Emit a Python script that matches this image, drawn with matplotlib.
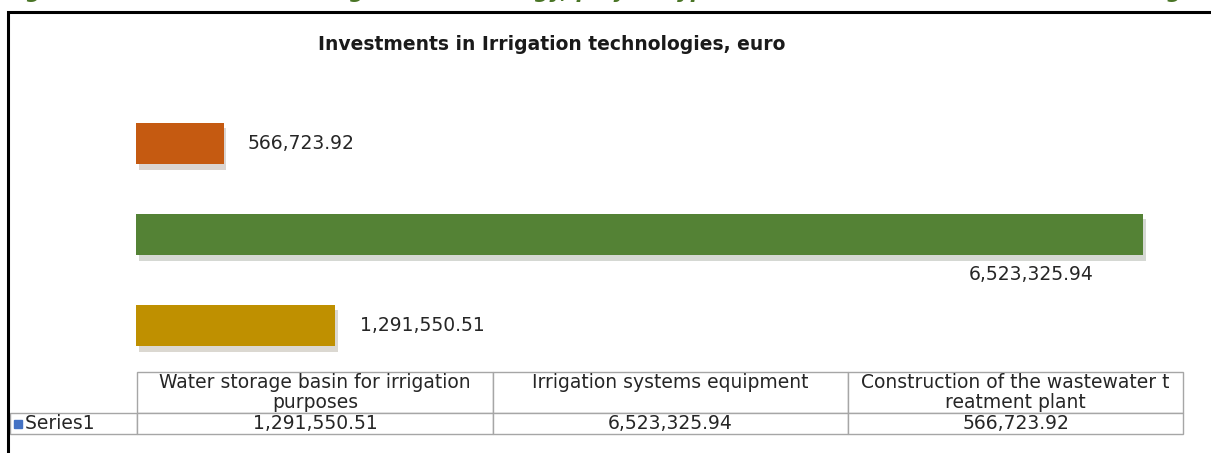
import matplotlib.pyplot as plt
from matplotlib.patches import Rectangle
import matplotlib.patheffects as pe

# Datos
categorias = ['Water storage basin for irrigation purposes',
              'Irrigation systems equipment',
              'Construction of the wastewater treatment plant']
encabezados = ['Water storage basin for irrigation\npurposes',
               'Irrigation systems equipment\n',
               'Construction of the wastewater t\nreatment plant']
valores = [1291550.51, 6523325.94, 566723.92]
etiquetas = ['1,291,550.51', '6,523,325.94', '566,723.92']
serie = 'Series1'
colores = ['#BF9000', '#548235', '#C55A11']

titulo = 'Investments in Irrigation technologies, euro'
pie = ('Figure 12: Investments in irrigation technology, project types and '
       'volume of investments in the region, by type, euro')

W, H = 1211, 453
plt.rcParams['font.family'] = ['DejaVu Sans']
fig = plt.figure(figsize=(W / 100, H / 100), dpi=100)
fig.set_facecolor('white')

def fx(px):
    return px / W

def fy(py):
    return 1 - py / H

# Texto cortado arriba (pie de figura del documento)
fig.text(fx(5), fy(-2), pie, fontsize=15, fontweight='bold', style='italic',
         color='#4A7526', ha='left', va='baseline')

# Marco negro
fig.patches.append(Rectangle((fx(8), fy(470)), 1.2, (470 - 12) / H, fill=False,
                             edgecolor='black', linewidth=2.2,
                             transform=fig.transFigure))

# Titulo
fig.text(fx(552), fy(45), titulo, fontsize=13.5, fontweight='bold',
         color='#1a1a1a', ha='center', va='center')

# Barras
ax = fig.add_axes([fx(136), fy(371), fx(1050), 273 / H])
pos = range(len(valores))
barras = ax.barh(pos, valores, height=0.46, color=colores)
for b in barras:
    b.set_path_effects([pe.SimplePatchShadow(offset=(2, -4), alpha=0.18), pe.Normal()])
ax.set_xlim(0, 6.8e6)
ax.set_ylim(-0.5, 2.5)
ax.axis('off')

desplaz = [(25, 0), (-50, -40), (24, 0)]
alin = ['left', 'right', 'left']
for i, v in enumerate(valores):
    ax.annotate(etiquetas[i], (v, i), xytext=desplaz[i], textcoords='offset pixels',
                ha=alin[i], va='center', fontsize=13.5, color='#262626')

# Tabla de datos
tax = fig.add_axes([fx(10), fy(434), fx(1173), 62 / H])
tax.axis('off')
celdas = [[''] + encabezados, ['  ' + serie] + etiquetas]
tabla = tax.table(cellText=celdas, cellLoc='center', bbox=[0, 0, 1, 1],
                  colWidths=[127, 356, 355, 335])
tabla.auto_set_font_size(False)
for (r, c), cell in tabla.get_celld().items():
    cell.set_edgecolor('#A6A6A6')
    cell.set_linewidth(1.0)
    cell.set_height(41 if r == 0 else 21)
    cell.get_text().set_fontsize(13.5)
    cell.get_text().set_color('#262626')
    cell.get_text().set_linespacing(1.0)
    cell.PAD = 0.02
tabla[0, 0].visible_edges = ''
tabla[1, 0].get_text().set_ha('left')
tabla[1, 0]._loc = 'left'

# Marca de la leyenda
fig.patches.append(Rectangle((fx(14), fy(428)), fx(8), 8 / H, color='#4472C4',
                             transform=fig.transFigure))

plt.savefig('out.png', dpi=100)
